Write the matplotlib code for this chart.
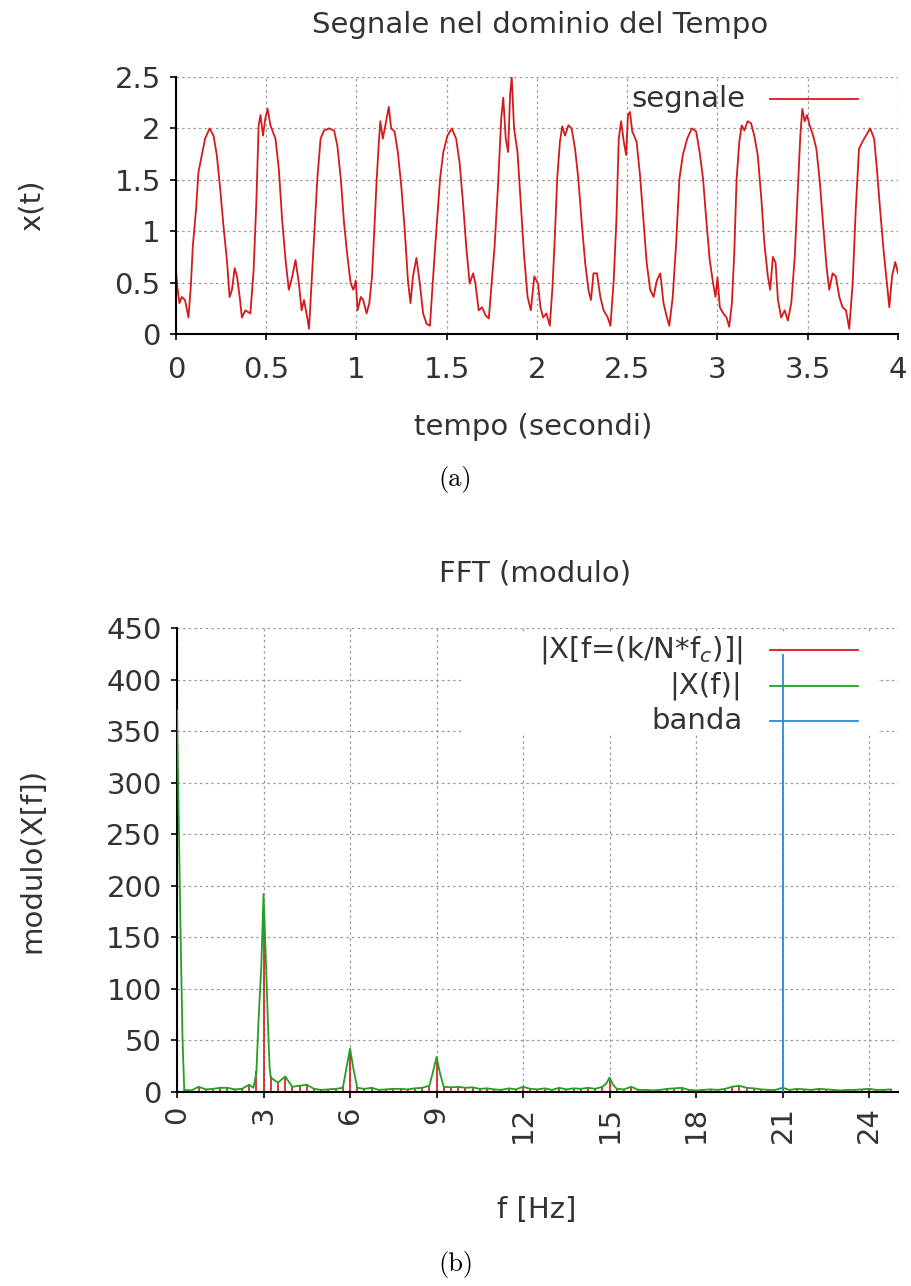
"""
Segnale nel tempo + modulo della FFT (stile gnuplot)
Salva out.png
"""
import numpy as np
import matplotlib
matplotlib.use('Agg')
import matplotlib.pyplot as plt
from matplotlib.patches import Rectangle
from matplotlib.ticker import MultipleLocator, FormatStrFormatter

# ====================== dati ======================
# segnale x(t), t in secondi
t_sig = [
    0, 0.007, 0.019, 0.032, 0.05, 0.069, 0.082, 0.093, 0.111, 0.124,
    0.143, 0.161, 0.186, 0.208, 0.226, 0.245, 0.263, 0.282, 0.297, 0.31,
    0.325, 0.338, 0.353, 0.365, 0.384, 0.412, 0.43, 0.445, 0.458, 0.468,
    0.482, 0.495, 0.508, 0.523, 0.551, 0.57, 0.588, 0.607, 0.625, 0.644,
    0.662, 0.681, 0.696, 0.709, 0.727, 0.737, 0.751, 0.764, 0.783, 0.801,
    0.82, 0.848, 0.876, 0.894, 0.913, 0.931, 0.95, 0.968, 0.983, 0.996,
    1.006, 1.024, 1.037, 1.056, 1.071, 1.086, 1.099, 1.112, 1.123, 1.132,
    1.146, 1.16, 1.179, 1.192, 1.211, 1.229, 1.248, 1.267, 1.285, 1.299,
    1.313, 1.332, 1.351, 1.369, 1.388, 1.407, 1.422, 1.44, 1.463, 1.481,
    1.504, 1.528, 1.552, 1.571, 1.59, 1.608, 1.627, 1.646, 1.659, 1.677,
    1.696, 1.715, 1.733, 1.746, 1.765, 1.784, 1.802, 1.813, 1.827, 1.84,
    1.851, 1.86, 1.873, 1.892, 1.91, 1.929, 1.948, 1.966, 1.985,
    2.006, 2.019, 2.034, 2.052, 2.071, 2.086, 2.099, 2.112, 2.127, 2.14,
    2.155, 2.174, 2.192, 2.211, 2.229, 2.248, 2.267, 2.285, 2.299, 2.313,
    2.332, 2.351, 2.369, 2.392, 2.407, 2.425, 2.44, 2.453, 2.466, 2.481,
    2.494, 2.504, 2.515, 2.528, 2.552, 2.571, 2.59, 2.608, 2.627, 2.646,
    2.664, 2.683, 2.701, 2.72, 2.733, 2.752, 2.771, 2.789, 2.808, 2.832,
    2.858, 2.882, 2.901, 2.92, 2.938, 2.957, 2.976, 2.989,
    3.0, 3.013, 3.032, 3.05, 3.065, 3.08, 3.093, 3.106, 3.121, 3.134,
    3.149, 3.167, 3.186, 3.204, 3.223, 3.242, 3.26, 3.279, 3.292, 3.307,
    3.322, 3.335, 3.353, 3.372, 3.39, 3.409, 3.428, 3.446, 3.459, 3.47,
    3.483, 3.496, 3.511, 3.53, 3.548, 3.567, 3.586, 3.604, 3.619, 3.638,
    3.656, 3.675, 3.693, 3.712, 3.73, 3.749, 3.766, 3.784, 3.803, 3.823,
    3.846, 3.868, 3.883, 3.901, 3.92, 3.939, 3.952, 3.967, 3.985, 4.0,
]
x_sig = [
    0.62, 0.46, 0.3, 0.36, 0.33, 0.16, 0.46, 0.85, 1.21, 1.57,
    1.74, 1.9, 2.0, 1.93, 1.74, 1.41, 1.05, 0.72, 0.36, 0.43,
    0.64, 0.56, 0.36, 0.16, 0.23, 0.2, 0.62, 1.28, 2.03, 2.13,
    1.93, 2.1, 2.19, 2.03, 1.9, 1.6, 1.11, 0.72, 0.43, 0.56,
    0.72, 0.49, 0.23, 0.33, 0.16, 0.05, 0.49, 0.88, 1.51, 1.9,
    1.98, 2.0, 1.98, 1.83, 1.51, 1.08, 0.75, 0.49, 0.43, 0.52,
    0.23, 0.36, 0.33, 0.2, 0.3, 0.56, 1.02, 1.51, 1.84, 2.07,
    1.9, 2.03, 2.21, 2.0, 1.97, 1.77, 1.44, 1.02, 0.52, 0.3,
    0.56, 0.74, 0.49, 0.2, 0.1, 0.08, 0.49, 0.95, 1.51, 1.77,
    1.93, 2.0, 1.9, 1.67, 1.28, 0.85, 0.49, 0.59, 0.49, 0.23,
    0.26, 0.18, 0.15, 0.43, 0.85, 1.44, 2.1, 2.3, 1.9, 1.77,
    2.33, 2.5, 2.0, 1.77, 1.28, 0.75, 0.36, 0.23, 0.56,
    0.49, 0.26, 0.16, 0.2, 0.08, 0.46, 0.95, 1.51, 1.87, 2.02,
    1.93, 2.03, 2.0, 1.8, 1.51, 1.08, 0.69, 0.43, 0.33, 0.59,
    0.59, 0.36, 0.23, 0.16, 0.08, 0.52, 1.11, 1.9, 2.07, 1.87,
    1.74, 2.13, 2.16, 1.97, 1.87, 1.54, 1.11, 0.69, 0.43, 0.36,
    0.52, 0.59, 0.3, 0.16, 0.08, 0.36, 0.88, 1.51, 1.74, 1.9,
    2.0, 1.97, 1.77, 1.51, 1.11, 0.72, 0.49, 0.36,
    0.55, 0.26, 0.2, 0.16, 0.07, 0.3, 0.79, 1.51, 1.87, 2.03,
    1.98, 2.07, 2.05, 1.93, 1.74, 1.34, 0.88, 0.56, 0.43, 0.75,
    0.69, 0.33, 0.16, 0.23, 0.13, 0.3, 0.75, 1.44, 1.93, 2.19,
    2.07, 2.13, 2.03, 1.93, 1.8, 1.48, 1.05, 0.66, 0.43, 0.59,
    0.56, 0.36, 0.26, 0.23, 0.05, 0.49, 1.21, 1.8, 1.87, 1.93,
    2.0, 1.9, 1.61, 1.21, 0.82, 0.49, 0.26, 0.56, 0.7, 0.59,
]

# FFT: f = k/N*fc
fc, N = 50, 200
k = np.arange(100)
X_k = [  # |X[k]| (impulsi rossi)
    368, 2, 1.5, 5, 2.5, 3, 4, 4, 2.5, 3,
    7, 20, 166, 15, 9, 14, 5, 6, 7, 3,
    2, 2.5, 3, 6, 37, 5, 3, 4, 2, 2.5,
    3, 3, 2.5, 3.5, 4, 6, 29, 6, 4.5, 5,
    4, 4.5, 3, 3.5, 2.5, 2, 3.5, 2.5, 5, 3,
    2.5, 3.5, 2, 4, 2.5, 3.5, 3, 4, 3, 5,
    12, 3, 2.5, 5, 2, 2, 1.5, 2, 3, 3.5,
    4, 2, 1.5, 2, 2.5, 2, 3, 5, 6, 4,
    3.5, 2.5, 2, 2, 4, 2, 3, 2.5, 2, 3,
    2.5, 2, 1.5, 2, 2, 2.5, 3, 2, 2, 2.5,
]
Xf_bins = [  # |X(f)| sugli stessi bin (linea verde)
    370, 2, 1.5, 5, 2.5, 3, 4, 4, 2.5, 3,
    7, 18, 192, 14, 9, 15, 5, 6, 7, 3,
    2, 2.5, 3, 4, 42, 4, 3, 4, 2, 2.5,
    3, 3, 2.5, 3.5, 4, 6, 34, 5, 4.5, 5,
    4, 4.5, 3, 3.5, 2.5, 2, 3.5, 2.5, 5, 3,
    2.5, 3.5, 2, 4, 2.5, 3.5, 3, 4, 3, 5,
    14, 3, 2.5, 5, 2, 2, 1.5, 2, 3, 3.5,
    4, 2, 1.5, 2, 2.5, 2, 3, 5, 6, 4,
    3.5, 2.5, 2, 2, 4, 2, 3, 2.5, 2, 3,
    2.5, 2, 1.5, 2, 2, 2.5, 3, 2, 2, 2.5,
]
# |X(f)| punti intermedi attorno ai picchi
Xf_extra_f = [0.06, 0.12, 0.19, 2.65, 2.83, 2.92, 3.09, 3.15, 3.21, 5.88, 6.12, 8.88, 9.12, 14.88, 15.12]
Xf_extra_v = [266, 159, 53, 4, 71, 120, 121, 69, 24, 24, 22, 20, 18, 8, 7]

banda_f = [21]
banda_h = [425]

RED, GREEN, BLUE = '#d41a1a', '#22a022', '#2a8ad4'
TXT = '#333333'

plt.rcParams.update({
    'font.family': 'DejaVu Sans', 'font.size': 21,
    'text.color': TXT, 'axes.labelcolor': TXT,
    'xtick.color': 'black', 'ytick.color': 'black',
    'xtick.labelcolor': TXT, 'ytick.labelcolor': TXT,
})


def style(ax):
    for s in ['top', 'right']:
        ax.spines[s].set_visible(False)
    for s in ['left', 'bottom']:
        ax.spines[s].set_linewidth(1.5)
    ax.tick_params(direction='out', length=4, width=1.2)
    ax.tick_params(axis='x', pad=12)
    ax.tick_params(axis='y', pad=7)
    ax.grid(True, color='#9a9a9a', lw=0.9, ls=(0, (2, 2.5)))
    ax.set_axisbelow(True)


fig = plt.figure(figsize=(9.11, 12.86), dpi=100)

# ====================== (a) segnale nel tempo ======================
ax1 = fig.add_axes([0.1932, 0.7403, 0.7925, 0.1998])
style(ax1)
ax1.plot(t_sig, x_sig, color=RED, lw=1.3, zorder=2)
ax1.set_xlim(0, 4); ax1.set_ylim(0, 2.5)
ax1.xaxis.set_major_locator(MultipleLocator(0.5))
ax1.yaxis.set_major_locator(MultipleLocator(0.5))
ax1.xaxis.set_major_formatter(FormatStrFormatter('%g'))
ax1.yaxis.set_major_formatter(FormatStrFormatter('%g'))
ax1.text(0.788, 0.914, 'segnale', transform=ax1.transAxes, ha='right', va='center')
ax1.plot([0.823, 0.945], [0.914, 0.914], transform=ax1.transAxes, color=RED, lw=1.3)

fig.text(540 / 911, 1 - 25 / 1286, 'Segnale nel dominio del Tempo', ha='center', va='center')
fig.text(533 / 911, 1 - 427 / 1286, 'tempo (secondi)', ha='center', va='center')
fig.text(32 / 911, 1 - 205 / 1286, 'x(t)', ha='center', va='center', rotation=90)
fig.text(0.5, 1 - 480 / 1286, '(a)', ha='center', va='center', family='cmr10', fontsize=19, color='black')

# ====================== (b) FFT ======================
f_k = k / N * fc
f_green = np.concatenate([f_k, Xf_extra_f])
v_green = np.concatenate([Xf_bins, Xf_extra_v])
order = np.argsort(f_green)

ax2 = fig.add_axes([0.1943, 0.1509, 0.7914, 0.3608])
style(ax2)
ax2.vlines(f_k, 0, X_k, color=RED, lw=1.2, zorder=2)
ax2.plot(f_green[order], v_green[order], color=GREEN, lw=1.3, zorder=3)
ax2.vlines(banda_f, 0, banda_h, color=BLUE, lw=1.3, zorder=5)
ax2.set_xlim(0, 25); ax2.set_ylim(0, 450)
ax2.xaxis.set_major_locator(MultipleLocator(3))
ax2.yaxis.set_major_locator(MultipleLocator(50))
ax2.tick_params(axis='x', labelrotation=90, pad=6)

# legenda (testo allineato a destra, campione a destra)
ax2.add_patch(Rectangle((0.395, 0.769), 0.576, 0.222, transform=ax2.transAxes,
                        facecolor='white', edgecolor='none', zorder=1.5))
leg = [('|X[f=(k/N*f$_c$)]|', RED), ('|X(f)|', GREEN), ('banda', BLUE)]
for (lab, c), y in zip(leg, [0.953, 0.875, 0.800]):
    ax2.text(0.784, y, lab, transform=ax2.transAxes, ha='right', va='center', zorder=4)
    ax2.plot([0.822, 0.944], [y, y], transform=ax2.transAxes, color=c, lw=1.3, zorder=4)

fig.text(535 / 911, 1 - 573 / 1286, 'FFT (modulo)', ha='center', va='center')
fig.text(537 / 911, 1 - 1210 / 1286, 'f [Hz]', ha='center', va='center')
fig.text(32 / 911, 1 - 860 / 1286, 'modulo(X[f])', ha='center', va='center', rotation=90)
fig.text(0.5, 1 - 1265 / 1286, '(b)', ha='center', va='center', family='cmr10', fontsize=19, color='black')

plt.savefig('out.png', dpi=100, facecolor='white')
